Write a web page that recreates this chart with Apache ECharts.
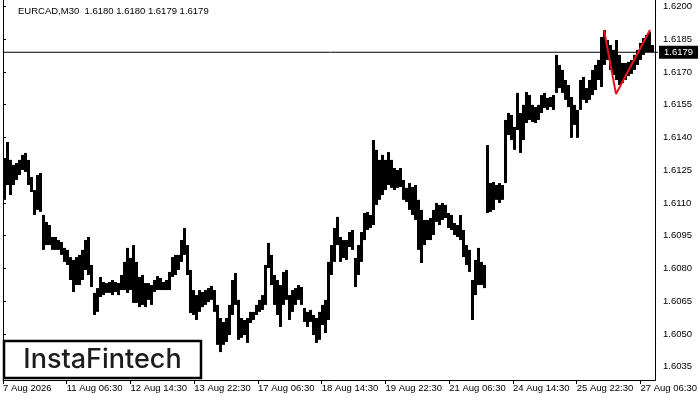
<!DOCTYPE html>
<html><head><meta charset="utf-8">
<script src="https://cdn.jsdelivr.net/npm/echarts@6/dist/echarts.min.js"></script>
<style>html,body{margin:0;padding:0;background:#fff}#c{width:700px;height:400px}</style>
</head><body><div id="c"></div>
<script>
const symbolName = 'EURCAD,M30';
const quote = [1.6180, 1.6180, 1.6179, 1.6179];
const timeLabels = ['7 Aug 2026','11 Aug 06:30','12 Aug 14:30','13 Aug 22:30','17 Aug 06:30','18 Aug 14:30','19 Aug 22:30','21 Aug 06:30','24 Aug 14:30','25 Aug 22:30','27 Aug 06:30'];
const barsPerTick = 64;
const totalBars = 655;
const barsPerSlot = 3;
const highs = [
1.61306,1.61379,1.61297,1.61274,1.61283,1.61297,1.61320,1.61329,1.61297,1.61219,
1.61159,1.61228,1.61237,1.61045,1.61013,1.60999,1.60944,1.60944,1.60930,1.60921,
1.60894,1.60885,1.60852,1.60839,1.60852,1.60862,1.60885,1.60930,1.60944,1.60816,
1.60688,1.60710,1.60761,1.60738,1.60733,1.60738,1.60747,1.60738,1.60733,1.60770,
1.60830,1.60894,1.60848,1.60907,1.60830,1.60761,1.60770,1.60733,1.60733,1.60724,
1.60747,1.60765,1.60756,1.60738,1.60747,1.60784,1.60852,1.60862,1.60862,1.60930,
1.60985,1.60907,1.60793,1.60701,1.60678,1.60701,1.60692,1.60701,1.60710,1.60720,
1.60701,1.60633,1.60573,1.60555,1.60573,1.60633,1.60747,1.60779,1.60656,1.60573,
1.60564,1.60573,1.60601,1.60601,1.60633,1.60656,1.60678,1.60816,1.60917,1.60862,
1.60770,1.60747,1.60724,1.60784,1.60793,1.60678,1.60701,1.60710,1.60724,1.60715,
1.60619,1.60601,1.60610,1.60587,1.60573,1.60601,1.60633,1.60656,1.60830,1.60907,
1.60985,1.61036,1.60944,1.60930,1.60930,1.60967,1.60976,1.60848,1.60907,1.60967,
1.61054,1.61059,1.61045,1.61388,1.61343,1.61297,1.61320,1.61297,1.61333,1.61297,
1.61260,1.61251,1.61260,1.61205,1.61169,1.61191,1.61173,1.61182,1.61114,1.61068,
1.61022,1.61022,1.61031,1.61068,1.61100,1.61091,1.61100,1.61091,1.61054,1.61045,
1.61008,1.60999,1.61045,1.60976,1.60907,1.60885,1.60747,1.60839,1.60894,1.60830,
1.60816,1.61365,1.61191,1.61196,1.61182,1.61191,1.61182,1.61480,1.61512,1.61503,
1.61448,1.61604,1.61512,1.61549,1.61608,1.61594,1.61549,1.61539,1.61549,1.61594,
1.61604,1.61581,1.61585,1.61594,1.61778,1.61732,1.61709,1.61663,1.61640,1.61585,
1.61549,1.61526,1.61663,1.61677,1.61626,1.61663,1.61709,1.61732,1.61755,1.61860,
1.61892,1.61846,1.61823,1.61801,1.61846,1.61778,1.61741,1.61741,1.61746,1.61755,
1.61778,1.61801,1.61833,1.61855,1.61869,1.61883,1.61823
];
const lows = [
1.61114,1.61182,1.61136,1.61182,1.61205,1.61228,1.61251,1.61242,1.61182,1.61150,
1.61045,1.61068,1.61059,1.60885,1.60907,1.60907,1.60885,1.60885,1.60885,1.60862,
1.60830,1.60816,1.60747,1.60692,1.60724,1.60724,1.60747,1.60793,1.60770,1.60715,
1.60587,1.60601,1.60669,1.60678,1.60688,1.60688,1.60678,1.60692,1.60678,1.60701,
1.60701,1.60688,1.60701,1.60642,1.60642,1.60623,1.60633,1.60623,1.60656,1.60633,
1.60692,1.60701,1.60701,1.60701,1.60701,1.60701,1.60761,1.60770,1.60793,1.60830,
1.60862,1.60770,1.60596,1.60587,1.60564,1.60601,1.60623,1.60633,1.60646,1.60656,
1.60601,1.60450,1.60417,1.60450,1.60463,1.60495,1.60587,1.60633,1.60473,1.60482,
1.60495,1.60459,1.60550,1.60564,1.60587,1.60601,1.60610,1.60633,1.60802,1.60724,
1.60633,1.60587,1.60532,1.60633,1.60656,1.60564,1.60601,1.60633,1.60656,1.60633,
1.60555,1.60532,1.60555,1.60495,1.60459,1.60473,1.60541,1.60504,1.60564,1.60770,
1.60830,1.60907,1.60830,1.60848,1.60839,1.60898,1.60885,1.60715,1.60770,1.60830,
1.60930,1.60976,1.60985,1.60999,1.61091,1.61114,1.61136,1.61159,1.61182,1.61169,
1.61159,1.61169,1.61173,1.61114,1.61104,1.61068,1.61045,1.61022,1.60885,1.60825,
1.60907,1.60930,1.60930,1.60953,1.61013,1.60999,1.61022,1.61031,1.60985,1.60976,
1.60953,1.60944,1.60930,1.60852,1.60816,1.60784,1.60564,1.60678,1.60724,1.60724,
1.60710,1.61054,1.61059,1.61068,1.61114,1.61100,1.61114,1.61191,1.61411,1.61388,
1.61343,1.61434,1.61329,1.61388,1.61466,1.61480,1.61471,1.61466,1.61480,1.61512,
1.61535,1.61526,1.61539,1.61526,1.61604,1.61626,1.61604,1.61572,1.61539,1.61398,
1.61457,1.61398,1.61526,1.61572,1.61558,1.61572,1.61594,1.61617,1.61663,1.61631,
1.61732,1.61755,1.61709,1.61686,1.61663,1.61640,1.61649,1.61663,1.61681,1.61691,
1.61709,1.61732,1.61755,1.61778,1.61791,1.61791,1.61791
];
const lastPrice = 1.6179;
const patternBars = [601, 613, 647];
const patternPrices = [1.61892, 1.61599, 1.61892];
const priceMin = 1.6035, priceMax = 1.6200, priceStep = 0.0015;

const ohlcData = highs.map((h, i) => [i * barsPerSlot + barsPerSlot / 2, lows[i], h]);
const patternData = patternBars.map((b, i) => [b, patternPrices[i]]);
const priceLineData = [[0, lastPrice], [totalBars, lastPrice]];

const FONT = 'Liberation Sans';
const FS = 9.5;
const chart = echarts.init(document.getElementById('c'), null, {renderer: 'canvas'});
chart.setOption({
  animation: false,
  backgroundColor: '#fff',
  grid: [
    {left: 3, right: 42, top: 6.4, bottom: 33.3},
    {left: 3, right: 42, top: 0, bottom: 20}
  ],
  xAxis: [
    {gridIndex: 0, type: 'value', min: 0, max: totalBars, show: false},
    {gridIndex: 1, type: 'value', min: 0, max: totalBars, interval: barsPerTick,
     axisLine: {show: true, lineStyle: {color: '#000', width: 1}},
     axisTick: {show: true, length: 4, lineStyle: {color: '#000'}},
     splitLine: {show: false},
     axisLabel: {show: true, align: 'left', margin: 3, fontSize: FS, fontFamily: FONT, color: '#000',
       hideOverlap: false, showMaxLabel: false,
       formatter: v => { const k = Math.round(v / barsPerTick); return (Math.abs(v - k * barsPerTick) < 0.01 && timeLabels[k]) ? timeLabels[k] : ''; }}}
  ],
  yAxis: [
    {gridIndex: 0, type: 'value', position: 'right', min: priceMin, max: priceMax, interval: priceStep,
     axisLine: {show: false}, axisTick: {show: true, length: 3, lineStyle: {color: '#000'}},
     splitLine: {show: false},
     axisLabel: {show: true, margin: 5, fontSize: FS, fontFamily: FONT, color: '#000', formatter: v => v.toFixed(4)}},
    {gridIndex: 1, type: 'value', position: 'left', min: 0, max: 1,
     axisLine: {show: true, lineStyle: {color: '#000', width: 1}}, axisTick: {show: false}, axisLabel: {show: false}, splitLine: {show: false}},
    {gridIndex: 1, type: 'value', position: 'right', min: 0, max: 1,
     axisLine: {show: true, lineStyle: {color: '#000', width: 1}}, axisTick: {show: false}, axisLabel: {show: false}, splitLine: {show: false}}
  ],
  series: [
    {type: 'custom', xAxisIndex: 0, yAxisIndex: 0, data: ohlcData, encode: {x: 0, y: [1, 2]}, silent: true,
     renderItem: function (params, api) {
       const x = api.value(0);
       const lo = api.coord([x, api.value(1)]);
       const hi = api.coord([x, api.value(2)]);
       const w = api.size([barsPerSlot, 0])[0];
       return {type: 'rect', shape: {x: lo[0] - w / 2, y: hi[1], width: w, height: Math.max(1, lo[1] - hi[1])},
               style: {fill: '#000'}};
     }
    },
    {type: 'line', xAxisIndex: 0, yAxisIndex: 0, data: priceLineData, symbol: 'none', silent: true,
     lineStyle: {color: '#000', width: 1}, z: 4,
     endLabel: {show: true, distance: 1, formatter: () => lastPrice.toFixed(4), color: '#fff',
                backgroundColor: '#000', padding: [2, 5, 1, 5], fontSize: FS, fontFamily: FONT}
    },
    {type: 'line', xAxisIndex: 0, yAxisIndex: 0, data: patternData, symbol: 'none', silent: true,
     lineStyle: {color: '#e8141c', width: 2}, z: 5}
  ],
  graphic: [
    {type: 'text', left: 18, top: 6, z: 10,
     style: {text: symbolName + '  ' + quote.map(q => q.toFixed(4)).join(' '), font: FS + 'px "Liberation Sans"', fill: '#000'}},
    {type: 'rect', z: 10, shape: {x: 4, y: 341, width: 197, height: 37},
     style: {fill: '#fff', stroke: '#000', lineWidth: 2.5}},
    {type: 'text', z: 11, x: 102.5, y: 360,
     style: {text: 'InstaFintech', font: '500 27px Inter', fill: '#1c1c1c', textAlign: 'center', textVerticalAlign: 'middle'}}
  ]
});
</script></body></html>
